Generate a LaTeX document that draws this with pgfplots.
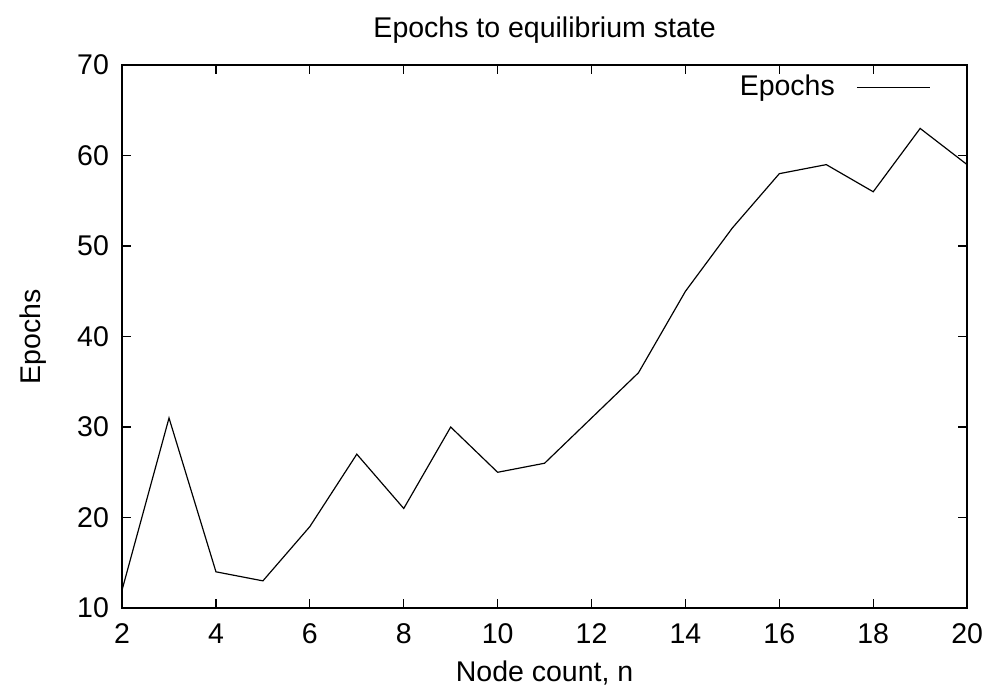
\documentclass[border=0pt]{standalone}
\usepackage{pgfplots}
\pgfplotsset{compat=1.18}
\usepackage{fontspec}
\setmainfont{Liberation Sans}
\begin{document}
\begin{tikzpicture}
\begin{axis}[
    name=ax,
    scale only axis,
    width=355.8pt, height=228.6pt,
    xmin=2, xmax=20, ymin=10, ymax=70,
    xtick={2,4,...,20}, ytick={10,20,...,70},
    tick align=inside,
    major tick length=3.8pt,
    axis line style={line width=0.6pt},
    every tick/.style={black, line width=0.5pt},
    /pgf/number format/assume math mode=true,
    tick label style={font=\fontsize{12}{14}\selectfont},
    xticklabel style={yshift=-3pt},
    yticklabel style={xshift=-2pt},
    label style={font=\fontsize{12}{14}\selectfont},
    title style={font=\fontsize{12}{14}\selectfont, yshift=-0.5pt},
    title={Epochs to equilibrium state},
    xlabel={Node count, n},
    ylabel={Epochs},
    xlabel style={yshift=-0.5pt},
    ylabel style={yshift=6pt},
    legend style={draw=none, fill=none, at={(rel axis cs:1,1)}, anchor=north east,
        xshift=-12pt, yshift=0pt, font=\fontsize{12}{14}\selectfont},
    legend plot pos=right,
    legend image code/.code={\path (0pt,0pt); \draw[#1] (7pt,0cm) -- (38pt,0cm);},
]
\addplot[black, line width=0.5pt] coordinates {
(2,12) (3,31) (4,14) (5,13) (6,19) (7,27) (8,21) (9,30) (10,25) (11,26)
(12,31) (13,36) (14,45) (15,52) (16,58) (17,59) (18,56) (19,63) (20,59)
};
\legend{Epochs}
\end{axis}
\path (ax.south west) ++(-51.4pt,-35.8pt) coordinate (bl);
\path (ax.north east) ++(10.9pt,27.4pt) coordinate (tr);
\useasboundingbox (bl) rectangle (tr);
\end{tikzpicture}
\end{document}
